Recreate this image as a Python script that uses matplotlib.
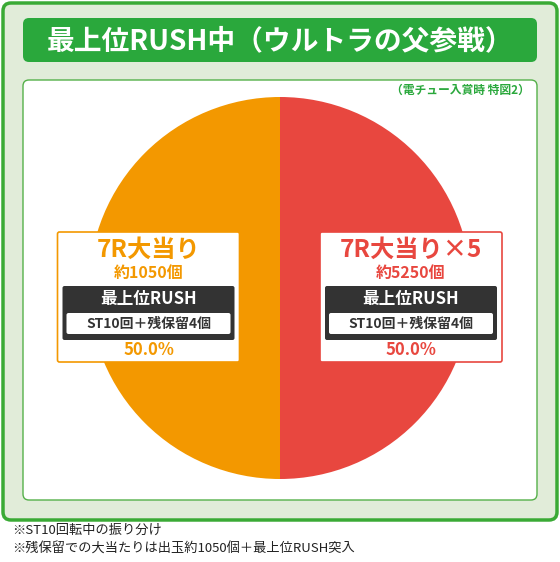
import matplotlib
matplotlib.use("Agg")
import matplotlib.pyplot as plt
from matplotlib.patches import FancyBboxPatch

plt.rcParams['font.family'] = ['Noto Sans CJK JP', 'DejaVu Sans']

title = "最上位RUSH中（ウルトラの父参戦）"
subtitle = "（電チュー入賞時 特図2）"
shares = [50.0, 50.0]
colors = ["#F39800", "#E8473F"]
heads = ["7R大当り", "7R大当り×5"]
balls = ["約1050個", "約5250個"]
mode = "最上位RUSH"
detail = "ST10回＋残保留4個"
notes = ["※ST10回転中の振り分け", "※残保留での大当たりは出玉約1050個＋最上位RUSH突入"]

GREEN = "#2AA83C"

fig = plt.figure(figsize=(5.6, 5.62), dpi=100)
ax = fig.add_axes([0, 0, 1, 1])


def rbox(x0, y0, x1, y1, fc, ec, lw, r, z=1):
    ax.add_patch(FancyBboxPatch((x0, y0), x1 - x0, y1 - y0,
                                boxstyle=f"round,pad=0,rounding_size={r}",
                                fc=fc, ec=ec, lw=lw, zorder=z))


wedges, _ = ax.pie(shares, colors=colors, startangle=90, center=(280, 288),
                   radius=191, frame=True, wedgeprops=dict(lw=0))
for w in wedges:
    w.set_zorder(3)
ax.set_xlim(0, 560)
ax.set_ylim(562, 0)
ax.set_aspect("auto")
ax.axis("off")

rbox(3, 3, 557, 520, "#E1ECD9", "#3AAA35", 2.5, 8)
rbox(23, 18, 537, 62, GREEN, "none", 0, 6, 2)
ax.text(280, 41, title, color="white", fontsize=20, fontweight="bold",
        ha="center", va="center", zorder=3)
rbox(23, 80, 537, 500, "white", "#55B04A", 1, 6, 2)
ax.text(530, 90, subtitle, color=GREEN, fontsize=8.5, fontweight="bold",
        ha="right", va="center", zorder=3)

for i, cx in enumerate([148.5, 411]):
    c = colors[i]
    rbox(cx - 91, 232, cx + 91, 362, "white", c, 1.2, 2, 4)
    ax.text(cx, 250, heads[i], color=c, fontsize=17.5, fontweight="bold",
            ha="center", va="center", zorder=5)
    ax.text(cx, 273, balls[i], color=c, fontsize=11.5, fontweight="bold",
            ha="center", va="center", zorder=5)
    rbox(cx - 86, 286, cx + 86, 340, "#333333", "none", 0, 2, 5)
    ax.text(cx, 299, mode, color="white", fontsize=12, fontweight="bold",
            ha="center", va="center", zorder=6)
    rbox(cx - 82, 313, cx + 82, 334, "white", "none", 0, 2, 6)
    ax.text(cx, 323.5, detail, color="#333333", fontsize=10, fontweight="bold",
            ha="center", va="center", zorder=7)
    ax.text(cx, 350, f"{shares[i]:.1f}%", color=c, fontsize=12,
            fontweight="bold", ha="center", va="center", zorder=5)

for j, n in enumerate(notes):
    ax.text(12, 530 + j * 19, n, color="#222222", fontsize=9.5,
            ha="left", va="center")

fig.savefig("out.png", dpi=100)
